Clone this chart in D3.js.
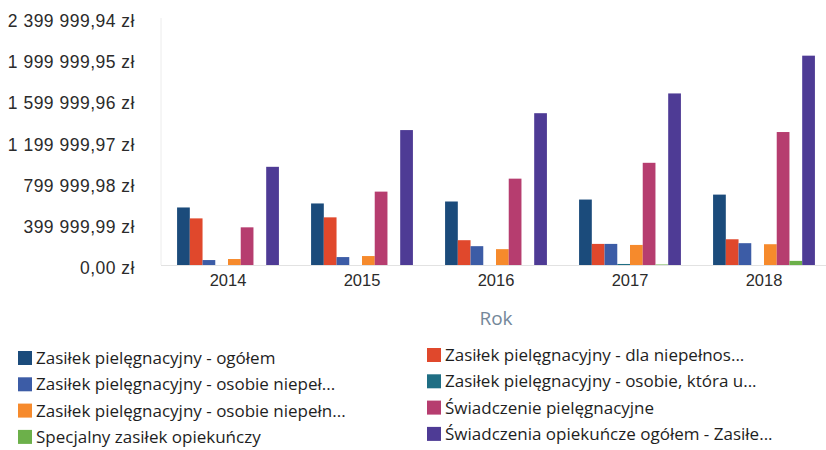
<!DOCTYPE html>
<html>
<head>
<meta charset="utf-8">
<script src="https://cdn.jsdelivr.net/npm/d3@7"></script>
<style>
  html, body { margin: 0; padding: 0; background: #fff; }
  svg { display: block; font-family: "Open Sans", "Noto Sans", sans-serif; }
</style>
</head>
<body>
<svg id="chart" width="826" height="450"></svg>
<script>
// Years on the x axis
const years = ["2014", "2015", "2016", "2017", "2018"];

// Series names (legend order, row by row)
const seriesNames = [
  "Zasiłek pielęgnacyjny - ogółem",
  "Zasiłek pielęgnacyjny - dla niepełnos...",
  "Zasiłek pielęgnacyjny - osobie niepeł...",
  "Zasiłek pielęgnacyjny - osobie, która u...",
  "Zasiłek pielęgnacyjny -  osobie niepełn...",
  "Świadczenie pielęgnacyjne",
  "Specjalny zasiłek opiekuńczy",
  "Świadczenia opiekuńcze ogółem - Zasiłe..."
];

const seriesColors = [
  "#1b4b7b", "#e0482c", "#3c5ca6", "#1f6e84",
  "#f68a2c", "#b63d6f", "#6cb04a", "#4e3b95"
];

// Values in zł per year, one array per series
const zasilekOgolem        = [559000, 598000, 617000, 636000, 684000];
const zasilekDlaNiepelnos  = [453000, 463000, 241000, 205000, 250000];
const zasilekOsobieNiepel  = [48000, 77000, 183000, 205000, 212000];
const zasilekOsobieKtora   = [0, 0, 0, 10000, 0];
const zasilekOsobieNiepeln = [58000, 87000, 154000, 195000, 202000];
const swiadczeniePiel      = [366000, 713000, 839000, 993000, 1292000];
const specjalnyZasilek     = [0, 0, 0, 5000, 40000];
const swiadczeniaOpiekuncze = [954000, 1311000, 1475000, 1667000, 2034000];

const seriesValues = [
  zasilekOgolem, zasilekDlaNiepelnos, zasilekOsobieNiepel, zasilekOsobieKtora,
  zasilekOsobieNiepeln, swiadczeniePiel, specjalnyZasilek, swiadczeniaOpiekuncze
];

// Y axis tick values
const yTicks = [0, 399999.99, 799999.98, 1199999.97, 1599999.96, 1999999.95, 2399999.94];

const plLocale = d3.formatLocale({
  decimal: ",",
  thousands: " ",
  grouping: [3],
  currency: ["", " zł"]
});
const fmt = plLocale.format("$,.2f");

const svg = d3.select("#chart");

const plotLeft = 161, plotRight = 831, plotTop = 18, plotBottom = 265;

const x = d3.scaleBand().domain(years).range([plotLeft, plotRight])
  .paddingInner(0.24).paddingOuter(0.12);
const xs = d3.scaleBand().domain(d3.range(seriesNames.length))
  .range([0, x.bandwidth()]).padding(0);
const y = d3.scaleLinear().domain([0, yTicks[yTicks.length - 1]]).range([plotBottom, plotTop]);

// Faint axis frame
svg.append("line").attr("x1", plotLeft).attr("x2", plotLeft).attr("y1", plotTop).attr("y2", plotBottom)
  .attr("stroke", "#ececec").attr("stroke-width", 1);
svg.append("line").attr("x1", plotLeft).attr("x2", plotRight).attr("y1", plotBottom + 0.5).attr("y2", plotBottom + 0.5)
  .attr("stroke", "#e2e2e2").attr("stroke-width", 1);

// Y axis labels
const yAxis = d3.axisLeft(y).tickValues(yTicks).tickFormat(fmt).tickSize(0).tickPadding(0);
const gy = svg.append("g").attr("transform", `translate(${plotLeft - 26},3)`).call(yAxis);
gy.select(".domain").remove();
gy.selectAll("text").attr("font-size", 17.5).attr("letter-spacing", "0.5px")
  .attr("fill", "#2b2b2b").attr("font-family", null);

// X axis labels
const xAxis = d3.axisBottom(x).tickSize(0).tickPadding(0);
const gx = svg.append("g").attr("transform", `translate(0,${plotBottom + 9})`).call(xAxis);
gx.select(".domain").remove();
gx.selectAll("text").attr("font-size", 16.5).attr("fill", "#2b2b2b").attr("font-family", null);

// Axis title
svg.append("text").attr("x", x("2016") + x.bandwidth() / 2).attr("y", 325)
  .attr("text-anchor", "middle").attr("font-size", 19).attr("fill", "#74879a")
  .text("Rok");

// Bars
const groups = svg.append("g").selectAll("g").data(years).join("g")
  .attr("transform", d => `translate(${x(d)},0)`);
groups.selectAll("rect")
  .data((yr, i) => seriesValues.map((vals, s) => ({ s, v: vals[i] })))
  .join("rect")
  .attr("x", d => xs(d.s))
  .attr("width", xs.bandwidth())
  .attr("y", d => y(d.v))
  .attr("height", d => plotBottom - y(d.v))
  .attr("fill", d => seriesColors[d.s]);

// Legend: two columns, four rows
const legend = svg.append("g").selectAll("g").data(seriesNames).join("g")
  .attr("transform", (d, i) => {
    const col = i % 2, row = Math.floor(i / 2);
    const lx = col === 0 ? 18 : 427;
    const ly = (col === 0 ? 358 : 355) + row * 26.3;
    return `translate(${lx},${ly})`;
  });
legend.append("rect").attr("x", 0).attr("y", -7).attr("width", 14).attr("height", 14)
  .attr("fill", (d, i) => seriesColors[i]);
legend.append("text").attr("x", 18).attr("y", 0).attr("dy", "0.35em")
  .attr("font-size", 17).attr("fill", "#1e1e1e").text(d => d);
</script>
</body>
</html>
